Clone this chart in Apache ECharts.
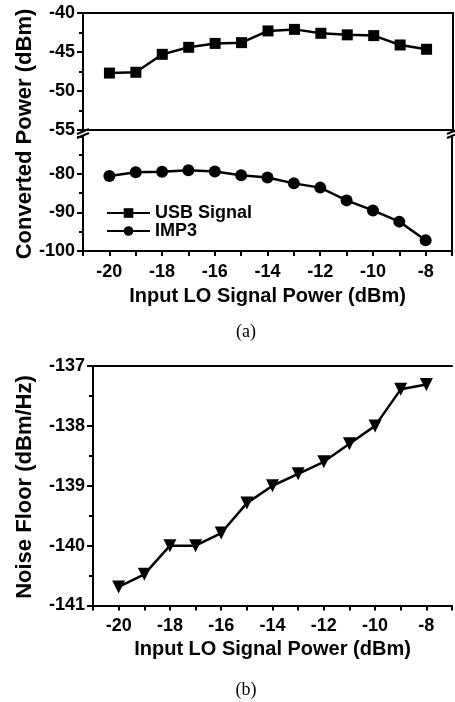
<!DOCTYPE html>
<html>
<head>
<meta charset="utf-8">
<title>Converted power and noise floor vs LO power</title>
<script src="https://cdn.jsdelivr.net/npm/echarts@6/dist/echarts.min.js"></script>
<style>
    html, body { margin: 0; padding: 0; background: #fff; }
    #main { width: 455px; height: 702px; }
</style>
</head>
<body>
<div id="main"></div>
<script>
    // input LO power sweep (dBm)
    var loPower = [-20, -19, -18, -17, -16, -15, -14, -13, -12, -11, -10, -9, -8];
    // (a) converted power, dBm
    var usbSignal = [-47.7, -47.6, -45.3, -44.4, -43.9, -43.8, -42.3, -42.1, -42.6, -42.8, -42.9, -44.1, -44.65];
    var imp3 = [-80.6, -79.6, -79.5, -79.1, -79.4, -80.4, -81.0, -82.5, -83.6, -86.9, -89.5, -92.4, -97.2];
    // (b) noise floor, dBm/Hz
    var noiseFloor = [-140.69, -140.48, -140.0, -140.0, -139.79, -139.29, -139.0, -138.8, -138.6, -138.3, -138.0, -137.39, -137.31];

    var xTickLabels = ['-20', '-18', '-16', '-14', '-12', '-10', '-8'];

    function pairs(ys) {
        return loPower.map(function (x, i) { return [x, ys[i]]; });
    }

    var font = 'Liberation Sans, Arial, sans-serif';
    var lbl = { color: '#000', fontFamily: font, fontWeight: 'bold', fontSize: 18 };
    var axLine = { show: true, onZero: false, lineStyle: { color: '#000', width: 2 } };

    function xBottom(grid, name, gap) {
        return {
            type: 'value', gridIndex: grid, min: -21, max: -7, interval: 1,
            axisLine: axLine,
            axisTick: { show: true, length: 5, lineStyle: { color: '#000', width: 2 } },
            axisLabel: Object.assign({ margin: 12, formatter: function (v) {
                var s = String(v);
                return xTickLabels.indexOf(s) >= 0 ? s : '';
            } }, lbl),
            splitLine: { show: false },
            name: name, nameLocation: 'middle', nameGap: gap,
            nameTextStyle: { color: '#000', fontFamily: font, fontWeight: 'bold', fontSize: 20 }
        };
    }
    function plainLine(grid, pos, isX) {
        var a = {
            type: 'value', gridIndex: grid, position: pos,
            axisLine: axLine, axisTick: { show: false }, axisLabel: { show: false },
            splitLine: { show: false }
        };
        if (isX) { a.min = -21; a.max = -7; }
        return a;
    }
    function yLeft(grid, min, max, interval, hideMax) {
        return {
            type: 'value', gridIndex: grid, min: min, max: max, interval: interval,
            axisLine: axLine,
            axisTick: { show: true, length: 6, lineStyle: { color: '#000', width: 2 } },
            minorTick: { show: true, splitNumber: 2, length: 4, lineStyle: { color: '#000', width: 2 } },
            axisLabel: Object.assign({ margin: 8, showMaxLabel: !hideMax }, lbl),
            splitLine: { show: false }
        };
    }

    var myChart = echarts.init(document.getElementById('main'));
    var option = {
        backgroundColor: '#fff',
        animation: false,
        grid: [
            { left: 83, right: 2, top: 13, height: 117 },
            { left: 83, right: 2, top: 137, height: 114 },
            { left: 93, right: -5, top: 366, height: 239.5 }
        ],
        xAxis: [
            plainLine(0, 'bottom', true),
            plainLine(0, 'top', true),
            xBottom(1, 'Input LO Signal Power (dBm)', 35),
            xBottom(2, 'Input LO Signal Power (dBm)', 34),
            plainLine(2, 'top', true)
        ],
        yAxis: [
            yLeft(0, -55, -40, 5, false),
            plainLine(0, 'right', false),
            yLeft(1, -100, -70.5, 10, true),
            plainLine(1, 'right', false),
            yLeft(2, -141, -137, 1, false)
        ],
        legend: {
            left: 101, top: 199, orient: 'vertical', itemGap: 0,
            itemWidth: 43, itemHeight: 12,
            textStyle: lbl,
            data: ['USB Signal', 'IMP3']
        },
        series: [
            {
                name: 'USB Signal', type: 'line', xAxisIndex: 0, yAxisIndex: 0,
                data: pairs(usbSignal), symbol: 'rect', symbolSize: 11,
                itemStyle: { color: '#000' }, lineStyle: { color: '#000', width: 2.5 }
            },
            {
                name: 'IMP3', type: 'line', xAxisIndex: 2, yAxisIndex: 2,
                data: pairs(imp3), symbol: 'circle', symbolSize: 12,
                itemStyle: { color: '#000' }, lineStyle: { color: '#000', width: 2.5 }
            },
            {
                name: 'Noise Floor', type: 'line', xAxisIndex: 3, yAxisIndex: 4,
                data: pairs(noiseFloor), symbol: 'triangle', symbolRotate: 180, symbolSize: 13,
                itemStyle: { color: '#000' }, lineStyle: { color: '#000', width: 2.5 }
            }
        ],
        graphic: [
            // axis break marks
            { type: 'line', shape: { x1: 77, y1: 134, x2: 89, y2: 129 }, style: { stroke: '#000', lineWidth: 2 } },
            { type: 'line', shape: { x1: 77, y1: 138, x2: 89, y2: 133 }, style: { stroke: '#000', lineWidth: 2 } },
            { type: 'line', shape: { x1: 447, y1: 134, x2: 459, y2: 129 }, style: { stroke: '#000', lineWidth: 2 } },
            { type: 'line', shape: { x1: 447, y1: 138, x2: 459, y2: 133 }, style: { stroke: '#000', lineWidth: 2 } },
            // y titles
            { type: 'text', x: 25, y: 134, rotation: Math.PI / 2,
              style: { text: 'Converted Power (dBm)', fill: '#000', font: 'bold 22px ' + font, align: 'center', verticalAlign: 'middle' } },
            { type: 'text', x: 25, y: 487, rotation: Math.PI / 2,
              style: { text: 'Noise Floor (dBm/Hz)', fill: '#000', font: 'bold 22px ' + font, align: 'center', verticalAlign: 'middle' } },
            // panel labels
            { type: 'text', x: 246, y: 332,
              style: { text: '(a)', fill: '#000', font: '18px Liberation Serif, Times New Roman, serif', align: 'center', verticalAlign: 'middle' } },
            { type: 'text', x: 246, y: 690,
              style: { text: '(b)', fill: '#000', font: '18px Liberation Serif, Times New Roman, serif', align: 'center', verticalAlign: 'middle' } }
        ]
    };
    myChart.setOption(option);
</script>
</body>
</html>
